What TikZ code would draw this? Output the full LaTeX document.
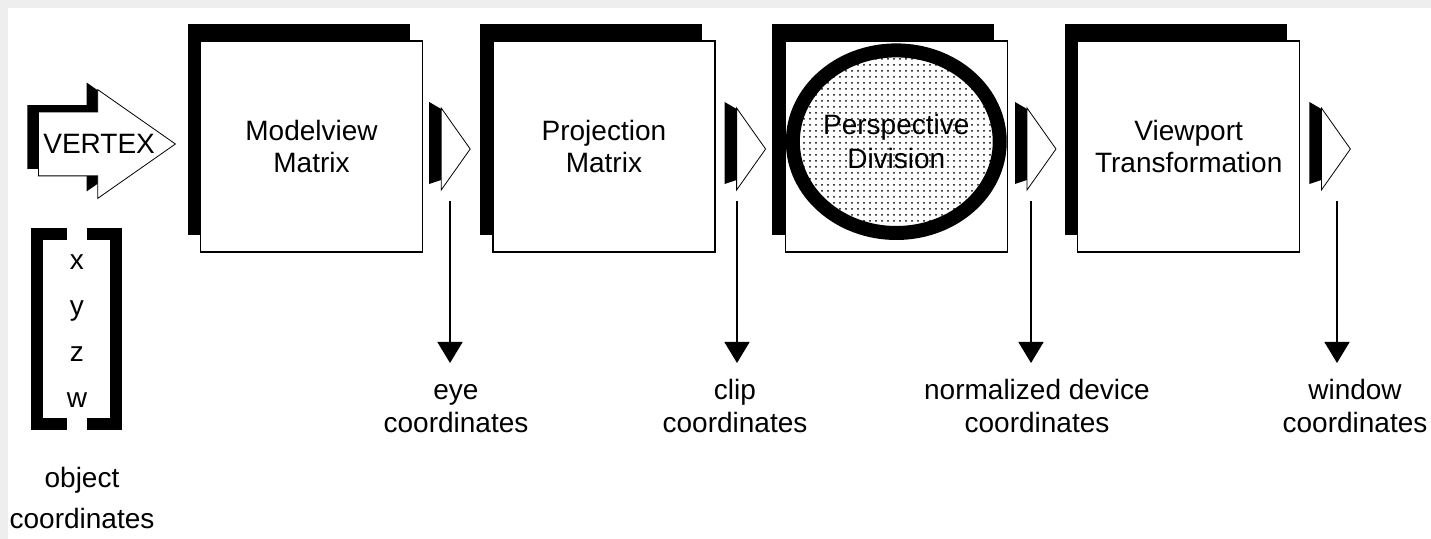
\documentclass[tikz,border=0pt]{standalone}
\usepackage{fontspec}
\setmainfont{Liberation Sans}
\usepackage{tikz}
\usetikzlibrary{arrows.meta, patterns, positioning, shapes.geometric, shapes.arrows, shadows}
\definecolor{framegray}{HTML}{EEEEEE}

\begin{document}
\begin{tikzpicture}[
    x=0.5pt, y=-0.5pt,
    node distance=34.5pt,
    stage/.style={rectangle, draw, fill=white, line width=0.7pt, minimum width=111pt, minimum height=105.5pt, align=center, inner sep=0pt, font={\fontsize{14}{16}\selectfont}, general shadow={fill=black, shadow xshift=-6.5pt, shadow yshift=8.5pt}},
    vertex/.style={single arrow, draw, fill=white, line width=0.4pt, minimum width=54pt, minimum height=68.5pt, single arrow head extend=11.25pt, single arrow tip angle=70, inner sep=0pt, font={\fontsize{14}{16}\selectfont}, general shadow={fill=black, shadow xshift=-5.5pt, shadow yshift=3.5pt}},
    persp/.style={ellipse, draw, line width=7pt, pattern=dots, minimum width=95.8pt, minimum height=91.3pt, align=center, inner sep=0pt, font={\fontsize{14}{17}\selectfont}},
    coordlabel/.style={align=center, anchor=north, inner sep=0pt, font={\fontsize{14}{16.5}\selectfont}},
    dropline/.style={-{Triangle[width=12.5pt, length=10.5pt]}, line width=0.8pt, shorten >=6.5pt},
    vecbracket/.style={line width=6pt},
    stubback/.style={fill=black},
    stubfront/.style={draw, fill=white, line width=0.4pt}
]
% Fond
\fill[white] (0,0) rectangle (1431,539);
\fill[framegray] (0,0) rectangle (1431,8);
\fill[framegray] (0,0) rectangle (8,539);
\useasboundingbox (0,0) rectangle (1431,539);

% Etapes
\node[stage] (mv) at (311.5,146.5) {Modelview\\Matrix};
\node[stage, right=of mv] (pm) {Projection\\Matrix};
\node[stage, right=of pm] (pd) {};
\node[stage, right=of pd] (vp) {Viewport\\Transformation};
\node[persp] (div) at ([yshift=2.4pt]pd.center) {Perspective\\Division};

% Sommet
\node[vertex, anchor=tail] (vtx) at (38,144) {\rule[-10.75pt]{0pt}{31.5pt}\makebox[0pt]{\hspace*{15pt}VERTEX}};
\node[coordlabel, font={\fontsize{14}{23}\selectfont}] (vec) at (77,237) {\strut x\\y\\z\\w};
\draw[vecbracket] (67,234) -- (37,234) -- (37,424) -- (67,424);
\draw[vecbracket] (87,234) -- (116,234) -- (116,424) -- (87,424);
\node[coordlabel, font={\fontsize{14}{20.5}\selectfont}] (obj) at (82,458) {\strut object\\coordinates};

% Petites fleches
\fill[stubback] (mv.east) ++(6,-44.5) -- ++(12,7) -- ++(0,71) -- ++(-12,4) -- cycle;
\filldraw[stubfront] (mv.east) ++(18,-38.5) -- ++(29,41) -- ++(-29,41) -- cycle;
\fill[stubback] (pm.east) ++(9,-44.5) -- ++(12,7) -- ++(0,71) -- ++(-12,4) -- cycle;
\filldraw[stubfront] (pm.east) ++(21,-38.5) -- ++(29,41) -- ++(-29,41) -- cycle;
\fill[stubback] (pd.east) ++(7,-44.5) -- ++(12,7) -- ++(0,71) -- ++(-12,4) -- cycle;
\filldraw[stubfront] (pd.east) ++(19,-38.5) -- ++(29,41) -- ++(-29,41) -- cycle;
\fill[stubback] (vp.east) ++(9,-44.5) -- ++(12,7) -- ++(0,71) -- ++(-12,4) -- cycle;
\filldraw[stubfront] (vp.east) ++(21,-38.5) -- ++(29,41) -- ++(-29,41) -- cycle;

% Coordonnees
\coordinate (d1) at (450,201);
\coordinate (d2) at (737,201);
\coordinate (d3) at (1031,201);
\coordinate (d4) at (1337,201);
\node[coordlabel] (eye) at (456,376) {\strut eye\\coordinates};
\node[coordlabel] (clip) at (735,376) {\strut clip\\coordinates};
\node[coordlabel] (ndc) at (1037,376) {\strut normalized device\\coordinates};
\node[coordlabel] (win) at (1355,376) {\strut window\\coordinates};

\draw[dropline] (d1) -- (d1 |- eye.north);
\draw[dropline] (d2) -- (d2 |- clip.north);
\draw[dropline] (d3) -- (d3 |- ndc.north);
\draw[dropline] (d4) -- (d4 |- win.north);
\end{tikzpicture}
\end{document}
